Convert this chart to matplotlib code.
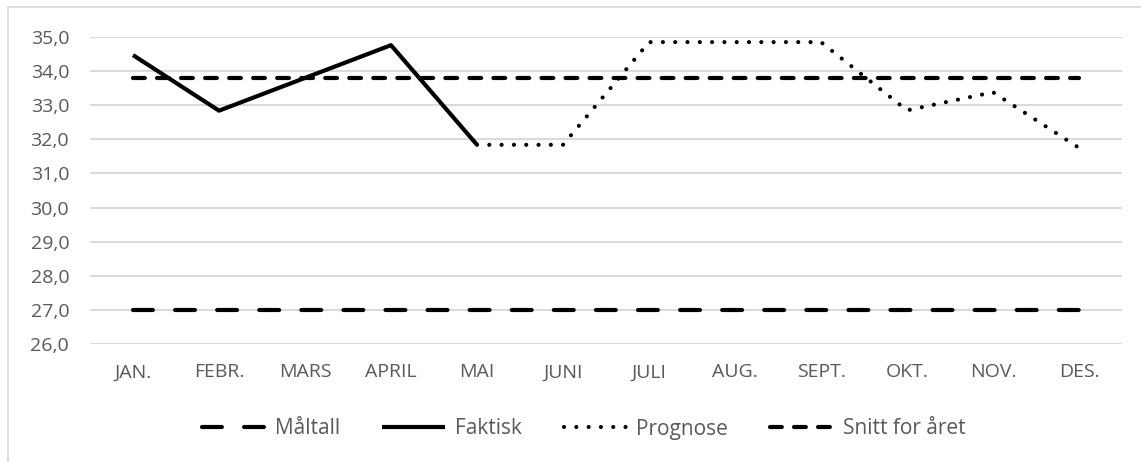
import numpy as np
import matplotlib
matplotlib.use("Agg")
import matplotlib.pyplot as plt
from matplotlib.patches import Rectangle

months = ['JAN.', 'FEBR.', 'MARS', 'APRIL', 'MAI', 'JUNI', 'JULI', 'AUG.', 'SEPT.', 'OKT.', 'NOV.', 'DES.']
maltall = [27.0] * 12
faktisk = [34.47, 32.84, 33.8, 34.76, 31.84, None, None, None, None, None, None, None]
prognose = [None, None, None, None, 31.84, 31.84, 34.85, 34.85, 34.85, 32.85, 33.38, 31.75]
snitt = [33.8] * 12
yticks = [26, 27, 28, 29, 30, 31, 32, 33, 34, 35]

plt.rcParams['font.family'] = ['Open Sans', 'DejaVu Sans']
plt.rcParams['lines.scale_dashes'] = False
grey = '#595959'

def arr(v):
    return np.array([np.nan if a is None else a for a in v], dtype=float)

fig = plt.figure(figsize=(11.41, 4.62), dpi=100)
ax = fig.add_axes([90 / 1141, 1 - 344 / 462, (1122 - 90) / 1141, (344 - 37) / 462])

x = np.arange(len(months))
lw = 3.0
ax.plot(x, arr(maltall), color='black', lw=lw, dashes=(14.3, 16.0),
        dash_capstyle='round', label='Måltall')
ax.plot(x, arr(faktisk), color='black', lw=lw, solid_capstyle='butt', label='Faktisk')
ax.plot(x, arr(prognose), color='black', lw=lw, dashes=(0.01, 8.85),
        dash_capstyle='round', label='Prognose')
ax.plot(x, arr(snitt), color='black', lw=lw, dashes=(8.5, 8.8),
        dash_capstyle='round', label='Snitt for året')

ax.set_xlim(-0.5, len(months) - 0.5)
ax.set_ylim(26, 35)
ax.set_yticks(yticks)
ax.set_yticklabels([f"{v:.1f}".replace('.', ',') for v in yticks])
ax.set_xticks(x)
ax.set_xticklabels(months)
ax.yaxis.grid(True, color='#d9d9d9', lw=1.4)
ax.set_axisbelow(True)
for s in ax.spines.values():
    s.set_visible(False)
ax.tick_params(axis='both', length=0, labelsize=14, colors=grey)
ax.tick_params(axis='y', pad=15)
ax.tick_params(axis='x', pad=14)

leg = fig.legend(loc='center', bbox_to_anchor=(584 / 1141, 1 - 429 / 462), ncol=4,
                 frameon=False, fontsize=15, handlelength=3.0,
                 handletextpad=0.5, columnspacing=2.0)
for t in leg.get_texts():
    t.set_color(grey)

fig.patches.append(Rectangle((8 / 1141, -0.1), 1.2, 1.1 - 7 / 462, transform=fig.transFigure,
                             fill=False, edgecolor='#d9d9d9', lw=1.2))

fig.savefig('out.png', dpi=100)
